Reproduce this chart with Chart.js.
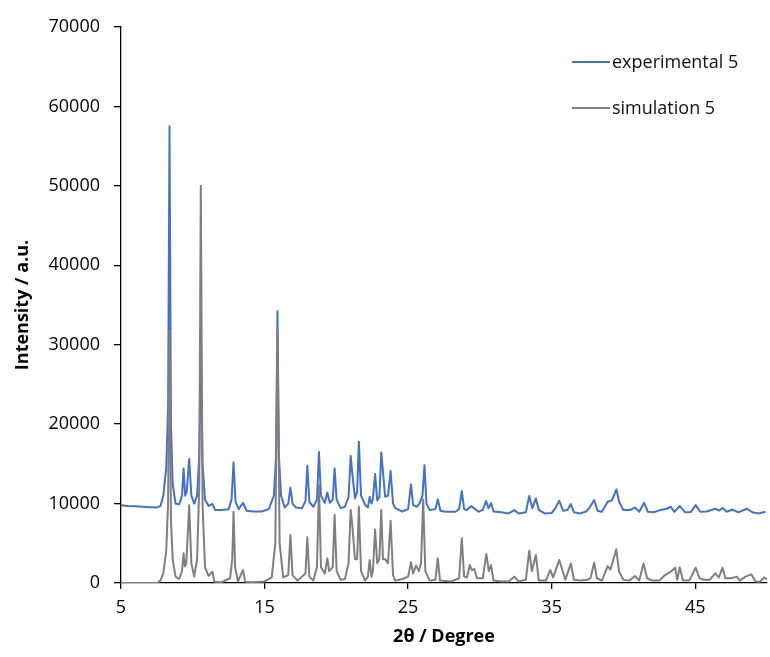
<!DOCTYPE html>
<html>
<head>
<meta charset="utf-8">
<script src="https://cdn.jsdelivr.net/npm/chart.js@4.4.1/dist/chart.umd.min.js"></script>
<style>
html,body{margin:0;padding:0;background:#fff;}
#wrap{width:770px;height:657px;position:relative;}
</style>
</head>
<body>
<div id="wrap"><canvas id="c" width="770" height="657"></canvas></div>
<script>
// ---- data ----
const seriesNames = ["experimental 5", "simulation 5"];
const xTickValues = [5, 15, 25, 35, 45];
const yTickValues = [0, 10000, 20000, 30000, 40000, 50000, 60000, 70000];

const expX = [5.0,5.5,6.0,6.5,7.0,7.5,7.75,7.95,8.15,8.28,8.38,8.48,8.6,8.8,9.05,9.25,9.36,9.47,9.58,9.75,9.9,10.1,10.3,10.45,10.56,10.68,10.85,11.1,11.37,11.55,12.0,12.5,12.7,12.84,12.98,13.2,13.5,13.75,14.2,14.8,15.3,15.65,15.8,15.9,16.0,16.15,16.4,16.65,16.8,16.95,17.2,17.6,17.85,17.98,18.12,18.4,18.65,18.79,18.93,19.2,19.37,19.55,19.75,19.88,20.02,20.3,20.6,20.85,21.0,21.1,21.3,21.45,21.57,21.72,22.0,22.2,22.32,22.45,22.55,22.7,22.85,23.0,23.13,23.4,23.6,23.78,23.95,24.1,24.6,25.0,25.2,25.35,25.6,25.8,26.0,26.14,26.28,26.5,26.9,27.07,27.25,27.6,28.3,28.55,28.74,28.9,29.1,29.39,29.6,29.9,30.2,30.43,30.6,30.78,30.95,31.5,32.0,32.4,32.7,33.2,33.44,33.65,33.9,34.1,34.5,35.0,35.25,35.53,35.8,36.1,36.34,36.55,37.0,37.4,37.6,37.96,38.2,38.5,38.9,39.2,39.51,39.7,40.0,40.5,40.8,41.1,41.44,41.7,42.1,42.6,43.0,43.3,43.55,43.92,44.3,44.7,45.03,45.35,45.8,46.4,46.65,46.9,47.2,47.6,48.0,48.6,49.0,49.4,49.9];
const expY = [9800,9700,9650,9600,9550,9500,9700,11000,14500,22000,57500,20000,12500,10000,9900,11000,14400,11000,11500,15600,11000,10000,11000,16000,30000,15000,10500,9700,9950,9200,9200,9300,10500,15200,10200,9300,10100,9100,9000,9000,9300,11000,16000,34250,16000,11000,9500,10000,12000,10000,9500,9400,10300,14760,10200,9600,10500,16500,11000,10100,11400,10100,10500,14430,10500,9430,9600,10800,16000,14000,10650,11500,17780,11000,9860,9500,10860,10000,10600,13710,10400,10800,16440,10860,11000,14090,10000,9430,9000,9300,12410,9800,9600,10030,11000,14840,10000,9180,9300,10530,9100,8970,8970,9300,11570,9300,9180,9690,9400,8970,9200,10320,9400,10060,9000,8900,8760,9180,8760,8900,10950,9400,10650,9200,8760,8800,9400,10350,9100,9200,9940,8900,8760,9000,9390,10440,9100,8970,10230,10400,11790,10230,9180,9200,9510,8970,10100,8970,8900,9200,9350,9600,8950,9690,8900,8950,9800,8970,9000,9350,9100,9450,8970,9250,8900,9350,8900,8760,8970];

const simX = [5.0,7.5,7.75,7.95,8.15,8.28,8.38,8.48,8.6,8.8,9.05,9.25,9.36,9.45,9.55,9.75,9.9,10.1,10.3,10.45,10.56,10.68,10.85,11.1,11.37,11.5,12.0,12.6,12.75,12.84,12.95,13.15,13.5,13.65,14.2,15.0,15.5,15.75,15.9,16.05,16.3,16.65,16.8,16.95,17.3,17.85,17.98,18.12,18.4,18.65,18.79,18.93,19.2,19.37,19.5,19.75,19.88,20.02,20.3,20.6,20.85,21.0,21.1,21.3,21.45,21.57,21.72,22.0,22.2,22.32,22.45,22.55,22.7,22.85,23.0,23.13,23.25,23.4,23.6,23.78,23.95,24.1,24.6,25.0,25.2,25.35,25.55,25.75,25.9,26.05,26.2,26.5,26.9,27.07,27.22,28.0,28.55,28.74,28.9,29.1,29.3,29.45,29.6,29.8,30.2,30.45,30.62,30.78,30.95,31.5,32.0,32.4,32.7,33.2,33.44,33.62,33.9,34.1,34.6,34.9,35.1,35.53,35.75,35.95,36.34,36.55,37.0,37.5,37.7,37.96,38.15,38.5,38.9,39.1,39.5,39.7,40.0,40.4,40.8,41.1,41.4,41.65,42.0,42.5,42.9,43.3,43.6,43.75,43.92,44.15,44.6,45.03,45.3,45.6,46.0,46.4,46.65,46.9,47.1,47.5,47.9,48.1,48.5,48.9,49.2,49.5,49.8,50.0];
const simY = [0,0,300,1260,4000,10000,31800,8000,3000,800,500,1500,3740,2100,2500,9800,2500,800,3000,12000,50000,10000,2000,900,1420,170,100,600,3000,8970,2000,200,1640,170,100,200,700,5000,31800,5000,700,1000,6040,1000,300,1200,5750,800,300,2000,12300,2000,1200,3100,1500,2000,8550,1500,400,500,2500,9180,7500,3000,3000,9600,1500,300,800,2900,800,1500,6750,2500,3000,9180,3000,3000,2500,7840,1000,300,500,800,2600,1200,2200,1500,2500,10500,1500,300,400,3100,300,200,600,5620,800,700,2260,1600,1800,600,600,3650,1500,2260,300,200,200,800,200,400,4070,1500,3520,300,300,1640,700,2890,1600,400,2470,400,300,400,600,2560,600,300,2130,1700,4240,1400,400,300,880,300,2470,600,300,300,1000,1430,1930,400,1970,300,350,1930,600,400,400,1220,700,1930,600,600,800,300,800,1090,200,150,700,500];

// ---- chart ----
const toPts = (xs, ys) => xs.map((x, i) => ({x: x, y: ys[i]}));
const FONT = "'Open Sans', 'DejaVu Sans', sans-serif";

const legendPlugin = {
  id: 'fixedLegend',
  afterDraw(chart) {
    const ctx = chart.ctx;
    const items = chart.data.datasets;
    ctx.save();
    ctx.font = "18px " + FONT;
    ctx.textBaseline = 'middle';
    ctx.textAlign = 'left';
    const rows = [62, 108];
    [0, 1].forEach((k) => {
      const ds = items.find(d => d.label === seriesNames[k]);
      ctx.strokeStyle = ds.borderColor;
      ctx.lineWidth = 2;
      ctx.beginPath();
      ctx.moveTo(572, rows[k]);
      ctx.lineTo(610, rows[k]);
      ctx.stroke();
      ctx.fillStyle = '#111';
      ctx.fillText(ds.label, 612, rows[k] + 1);
    });
    ctx.restore();
  }
};

new Chart(document.getElementById('c'), {
  type: 'line',
  data: {
    datasets: [
      {label: seriesNames[0], data: toPts(expX, expY), borderColor: '#4472C4', borderWidth: 2, borderJoinStyle: 'round', pointRadius: 0, tension: 0, fill: false, order: 2},
      {label: seriesNames[1], data: toPts(simX, simY), borderColor: '#7F7F7F', borderWidth: 2, borderJoinStyle: 'round', pointRadius: 0, tension: 0, fill: false, order: 1}
    ]
  },
  options: {
    responsive: false,
    animation: false,
    devicePixelRatio: 1,
    layout: {padding: {top: 27, right: 3, left: 0, bottom: 0}},
    plugins: {legend: {display: false}, tooltip: {enabled: false}},
    scales: {
      x: {
        type: 'linear', min: 5, max: 50,
        afterBuildTicks: (s) => { s.ticks = xTickValues.map(v => ({value: v})); },
        afterFit: (s) => { s.height = 74; },
        grid: {drawOnChartArea: false, drawTicks: true, tickLength: 6, color: '#000', lineWidth: 1.3},
        border: {display: true, color: '#000', width: 1.3},
        ticks: {color: '#000', font: {family: FONT, size: 18}, padding: 8, maxRotation: 0, callback: (v) => String(v)},
        title: {display: true, text: '2θ / Degree', color: '#000', font: {family: FONT, size: 18, weight: 'bold'}, padding: {top: 0, bottom: 9}}
      },
      y: {
        type: 'linear', min: 0, max: 70000,
        afterBuildTicks: (s) => { s.ticks = yTickValues.map(v => ({value: v})); },
        afterFit: (s) => { s.width = 121; },
        grid: {drawOnChartArea: false, drawTicks: true, tickLength: 7, color: '#000', lineWidth: 1.3},
        border: {display: true, color: '#000', width: 1.3},
        ticks: {color: '#000', font: {family: FONT, size: 18}, padding: 14, callback: (v) => String(v)},
        title: {display: true, text: 'Intensity / a.u.', color: '#000', font: {family: FONT, size: 18, weight: 'bold'}, padding: {top: 12, bottom: 0}}
      }
    }
  },
  plugins: [legendPlugin]
});
</script>
</body>
</html>
